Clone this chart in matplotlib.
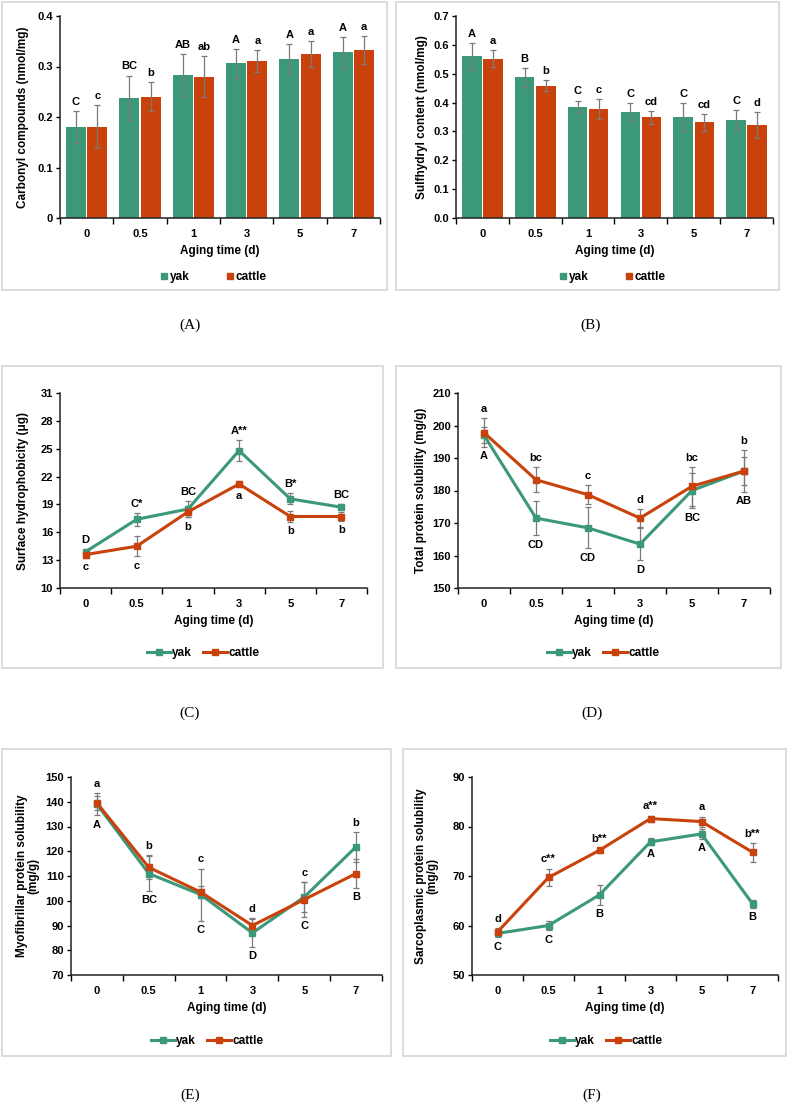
import numpy as np
import matplotlib.pyplot as plt
from matplotlib.patches import Rectangle
from matplotlib.lines import Line2D

plt.rcParams['font.family'] = ['Liberation Sans', 'DejaVu Sans']
plt.rcParams['font.weight'] = 'bold'

days = ["0", "0.5", "1", "3", "5", "7"]

# (A) carbonyl compounds
carb_yak = [0.180, 0.238, 0.283, 0.306, 0.315, 0.328]
carb_yak_err = [0.031, 0.044, 0.042, 0.028, 0.029, 0.030]
carb_cat = [0.181, 0.240, 0.280, 0.311, 0.325, 0.333]
carb_cat_err = [0.043, 0.029, 0.040, 0.022, 0.025, 0.028]
carb_yak_lab = ["C", "BC", "AB", "A", "A", "A"]
carb_cat_lab = ["c", "b", "ab", "a", "a", "a"]

# (B) sulfhydryl content
sulf_yak = [0.560, 0.487, 0.385, 0.367, 0.349, 0.339]
sulf_yak_err = [0.047, 0.033, 0.022, 0.031, 0.048, 0.035]
sulf_cat = [0.552, 0.459, 0.377, 0.349, 0.331, 0.322]
sulf_cat_err = [0.030, 0.020, 0.034, 0.022, 0.029, 0.045]
sulf_yak_lab = ["A", "B", "C", "C", "C", "C"]
sulf_cat_lab = ["a", "b", "c", "cd", "cd", "d"]

# (C) surface hydrophobicity
hyd_yak = [13.9, 17.4, 18.5, 24.8, 19.6, 18.7]
hyd_yak_err = [0.3, 0.7, 0.9, 1.15, 0.6, 0.3]
hyd_cat = [13.6, 14.5, 18.2, 21.2, 17.7, 17.7]
hyd_cat_err = [0.4, 1.1, 0.6, 0.3, 0.6, 0.5]
hyd_yak_lab = ["D", "C*", "BC", "A**", "B*", "BC"]
hyd_cat_lab = ["c", "c", "b", "a", "b", "b"]

# (D) total protein solubility
tot_yak = [197.0, 171.5, 168.5, 163.5, 180.0, 186.0]
tot_yak_err = [2.5, 5.3, 6.3, 5.0, 5.5, 4.4]
tot_cat = [197.8, 183.3, 178.7, 171.5, 181.3, 186.0]
tot_cat_err = [4.5, 3.8, 3.0, 2.7, 6.0, 6.4]
tot_yak_lab = ["A", "CD", "CD", "D", "BC", "AB"]
tot_cat_lab = ["a", "bc", "c", "d", "bc", "b"]

# (E) myofibrillar protein solubility
myo_yak = [139.0, 111.0, 102.5, 87.0, 101.5, 121.8]
myo_yak_err = [4.5, 7.0, 10.5, 5.5, 6.0, 6.0]
myo_cat = [139.5, 113.5, 103.5, 90.0, 100.5, 111.0]
myo_cat_err = [3.0, 4.8, 2.5, 3.0, 7.0, 5.8]
myo_yak_lab = ["A", "BC", "C", "D", "C", "B"]
myo_cat_lab = ["a", "b", "c", "d", "c", "b"]

# (F) sarcoplasmic protein solubility
sar_yak = [58.4, 60.0, 66.2, 76.9, 78.5, 64.4]
sar_yak_err = [0.8, 1.0, 2.0, 0.7, 1.0, 0.8]
sar_cat = [58.7, 69.7, 75.2, 81.6, 81.0, 74.8]
sar_cat_err = [0.8, 1.8, 0.5, 0.6, 1.0, 1.9]
sar_yak_lab = ["C", "C", "B", "A", "A", "B"]
sar_cat_lab = ["d", "c**", "b**", "a**", "a", "b**"]

GREEN = "#3b9878"
RED = "#c9420c"
ERR = "#7a7a7a"
W, H = 787, 1107

fig = plt.figure(figsize=(W / 100, H / 100), dpi=100)


def rect(x0, x1, y0, y1):
    return [x0 / W, 1 - y1 / H, (x1 - x0) / W, (y1 - y0) / H]


def frame(x0, x1, y0, y1):
    fig.patches.append(Rectangle((x0 / W, 1 - y1 / H), (x1 - x0) / W, (y1 - y0) / H,
                                 transform=fig.transFigure, fill=False,
                                 edgecolor="#d6d6d6", lw=1.2))


def style(ax, ylim, yticks, fmt, ylabel, ypad):
    x = np.arange(len(days))
    ax.set_xlim(-0.5, len(days) - 0.5)
    ax.set_ylim(*ylim)
    ax.set_yticks(yticks)
    ax.set_yticklabels([fmt.format(v) for v in yticks])
    ax.set_xticks(x)
    ax.set_xticklabels(days)
    ax.set_xticks(np.arange(-0.5, len(days)), minor=True)
    ax.tick_params(axis="x", which="major", length=0, pad=8, labelsize=8)
    ax.tick_params(axis="x", which="minor", length=4, direction="out", width=1)
    ax.tick_params(axis="y", length=3, width=1, labelsize=8, pad=2)
    for s in ["top", "right"]:
        ax.spines[s].set_visible(False)
    for s in ["left", "bottom"]:
        ax.spines[s].set_linewidth(1.1)
        ax.spines[s].set_color("#222222")
    ax.set_xlabel("Aging time (d)", fontsize=8.5, fontweight="bold", labelpad=4)
    ax.set_ylabel(ylabel, fontsize=8.5, fontweight="bold", labelpad=ypad,
                  linespacing=1.0)


def label(ax, x, y, txt, above):
    ax.annotate(txt, (x, y), xytext=(0, 3 if above else -3), textcoords="offset points",
                ha="center", va="bottom" if above else "top", fontsize=8, fontweight="bold")


def bar_panel(box, yak, yerr, cat, cerr, ylab, clab, ylim, yticks, fmt, ylabel, ypad, legpos):
    ax = fig.add_axes(rect(*box))
    x = np.arange(len(days))
    ax.bar(x - 0.2, yak, 0.37, color=GREEN, yerr=yerr, ecolor=ERR,
           error_kw=dict(capsize=2.5, elinewidth=0.9, capthick=0.9))
    ax.bar(x + 0.2, cat, 0.37, color=RED, yerr=cerr, ecolor=ERR,
           error_kw=dict(capsize=2.5, elinewidth=0.9, capthick=0.9))
    for i in range(len(days)):
        label(ax, i - 0.2, yak[i] + yerr[i], ylab[i], True)
        label(ax, i + 0.2, cat[i] + cerr[i], clab[i], True)
    style(ax, ylim, yticks, fmt, ylabel, ypad)
    handles = [Line2D([], [], ls="none", marker="s", ms=5, color=GREEN),
               Line2D([], [], ls="none", marker="s", ms=5, color=RED)]
    ax.legend(handles, ["yak", "cattle"], loc="center", ncol=2, frameon=False,
              bbox_to_anchor=(legpos[0] / W, 1 - legpos[1] / H), bbox_transform=fig.transFigure,
              fontsize=8.5, handletextpad=0.1, columnspacing=3.0, handlelength=0.8)


def line_panel(box, yak, yerr, cat, cerr, ylab, clab, yak_above, ylim, yticks, ylabel, ypad, legpos):
    ax = fig.add_axes(rect(*box))
    x = np.arange(len(days))
    for vals, err, col in [(yak, yerr, GREEN), (cat, cerr, RED)]:
        ax.errorbar(x, vals, yerr=err, color=col, lw=2.2, marker="s", ms=4.5,
                    ecolor=ERR, elinewidth=0.9, capsize=2.5, capthick=0.9)
    for i in range(len(days)):
        top = max(yak[i] + yerr[i], cat[i] + cerr[i])
        bot = min(yak[i] - yerr[i], cat[i] - cerr[i])
        up_txt, down_txt = (ylab[i], clab[i]) if yak_above else (clab[i], ylab[i])
        label(ax, i, top, up_txt, True)
        label(ax, i, bot, down_txt, False)
    style(ax, ylim, yticks, "{:g}", ylabel, ypad)
    handles = [Line2D([], [], lw=2.2, marker="s", ms=4, color=GREEN),
               Line2D([], [], lw=2.2, marker="s", ms=4, color=RED)]
    ax.legend(handles, ["yak", "cattle"], loc="center", ncol=2, frameon=False,
              bbox_to_anchor=(legpos[0] / W, 1 - legpos[1] / H), bbox_transform=fig.transFigure,
              fontsize=8.5, handletextpad=0.1, columnspacing=1.0, handlelength=2.0)


# panel frames
frame(2, 387, 2, 290)
frame(396, 779, 2, 290)
frame(2, 383, 366, 668)
frame(396, 781, 366, 668)
frame(2, 391, 749, 1056)
frame(403, 786, 749, 1056)

bar_panel((60, 380, 16, 218), carb_yak, carb_yak_err, carb_cat, carb_cat_err,
          carb_yak_lab, carb_cat_lab, (0, 0.4), [0, 0.1, 0.2, 0.3, 0.4], "{:g}",
          "Carbonyl compounds (nmol/mg)", 6, (213, 277))
bar_panel((456, 773, 16, 218), sulf_yak, sulf_yak_err, sulf_cat, sulf_cat_err,
          sulf_yak_lab, sulf_cat_lab, (0, 0.7), np.round(np.arange(0, 0.71, 0.1), 1), "{:.1f}",
          "Sulfhydryl content (nmol/mg)", 4, (612, 277))
line_panel((60, 367, 393, 588), hyd_yak, hyd_yak_err, hyd_cat, hyd_cat_err,
           hyd_yak_lab, hyd_cat_lab, True, (10, 31), np.arange(10, 32, 3),
           "Surface hydrophobicity (μg)", 8, (203, 653))
line_panel((458, 770, 393, 588), tot_yak, tot_yak_err, tot_cat, tot_cat_err,
           tot_yak_lab, tot_cat_lab, False, (150, 210), np.arange(150, 211, 10),
           "Total protein solubility (mg/g)", 4, (603, 653))
line_panel((71, 382, 777, 975), myo_yak, myo_yak_err, myo_cat, myo_cat_err,
           myo_yak_lab, myo_cat_lab, False, (70, 150), np.arange(70, 151, 10),
           "Myofibrillar protein solubility\n(mg/g)", 4, (207, 1041))
line_panel((472, 778, 777, 975), sar_yak, sar_yak_err, sar_cat, sar_cat_err,
           sar_yak_lab, sar_cat_lab, False, (50, 90), np.arange(50, 91, 10),
           "Sarcoplasmic protein solubility\n(mg/g)", 10, (606, 1041))

# panel captions
for txt, cx, cy in [("(A)", 190, 325), ("(B)", 591, 325), ("(C)", 190, 713),
                    ("(D)", 592, 713), ("(E)", 190, 1095), ("(F)", 592, 1095)]:
    fig.text(cx / W, 1 - cy / H, txt, ha="center", va="center", fontsize=11,
             fontweight="normal", family="Liberation Serif")

fig.savefig("out.png", dpi=100, facecolor="white")
